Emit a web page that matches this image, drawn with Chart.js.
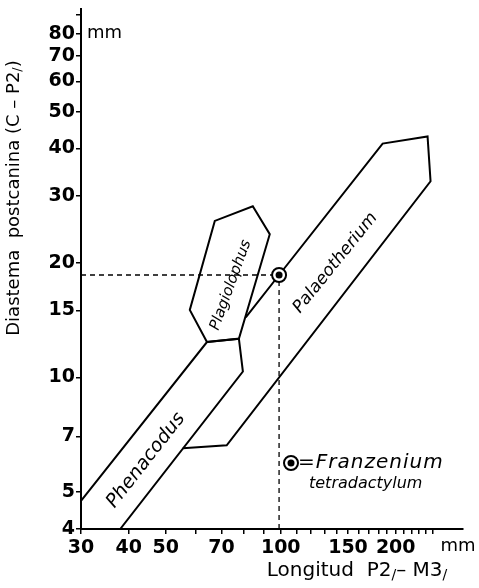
<!DOCTYPE html>
<html>
<head>
<meta charset="utf-8">
<title>Diastema postcanina</title>
<script src="https://cdn.jsdelivr.net/npm/chart.js"></script>
<style>
  html, body { margin: 0; padding: 0; background: #fff; }
  canvas { display: block; }
</style>
</head>
<body>
<canvas id="chart" width="479" height="588"></canvas>
<script>
// axis ticks (log scales), labelled ones are a subset
const xTicks = [30,40,50,60,70,80,90,100,110,120,130,140,150,160,170,180,190,200,210,220,230,240,250];
const xLabels = [30,40,50,70,100,150,200];
const yTicks = [4,5,7,10,15,20,30,40,50,60,70,80,90];
const yLabels = [4,5,7,10,15,20,30,40,50,60,70,80];

// outlines of the fields
const phenacodusX = [30, 64.1, 77.7, 79.6, 38];
const phenacodusY = [4.74, 12.4, 12.65, 10.37, 4];
const plagiolophusX = [64.1, 57.8, 67.2, 84.5, 93.6, 77.7, 64.1];
const plagiolophusY = [12.4, 15.06, 25.8, 28.2, 23.8, 12.65, 12.4];
const palaeotheriumX = [81.0, 99, 184.8, 242.3, 246.7, 72.2, 55.4];
const palaeotheriumY = [14.4, 18.6, 41.2, 43.0, 32.8, 6.64, 6.52];

// Franzenium tetradactylum
const franzeniumX = [99];
const franzeniumY = [18.6];

// field names and where they sit (data units)
const fieldNames = ['Phenacodus', 'Plagiolophus', 'Palaeotherium'];
const fieldLabelX = [44.4, 74.0, 139];
const fieldLabelY = [6.06, 17.5, 20.0];
const fieldLabelAngle = [-52, -70, -51];
const fieldLabelSize = [19, 15, 17];

const pts = (xs, ys) => xs.map((x, i) => ({ x: x, y: ys[i] }));

const outline = (data) => ({
  data: data, showLine: true, borderColor: '#000', borderWidth: 2,
  pointRadius: 0, tension: 0, fill: false
});
const dashed = (data) => ({
  data: data, showLine: true, borderColor: '#000', borderWidth: 1.3,
  borderDash: [5, 4], pointRadius: 0, fill: false
});

const SANS = '"DejaVu Sans", sans-serif';

function drawRuns(ctx, runs, x, y, size) {
  // text with small lowered "/" marks (lower tooth notation)
  let total = 0;
  runs.forEach(r => {
    ctx.font = (r.sub ? Math.round(size * 0.7) : size) + 'px ' + SANS;
    r.w = ctx.measureText(r.t).width;
    total += r.w;
  });
  let cx = x - total / 2;
  ctx.textAlign = 'left';
  ctx.textBaseline = 'middle';
  runs.forEach(r => {
    ctx.font = (r.sub ? Math.round(size * 0.7) : size) + 'px ' + SANS;
    ctx.fillText(r.t, cx, y + (r.sub ? 4 : 0));
    cx += r.w;
  });
}

const textPlugin = {
  id: 'texts',
  afterDraw(chart) {
    const ctx = chart.ctx;
    const xs = chart.scales.x, ys = chart.scales.y;
    ctx.save();
    ctx.fillStyle = '#000';

    // field names
    ctx.textAlign = 'center';
    ctx.textBaseline = 'middle';
    fieldNames.forEach((n, i) => {
      ctx.save();
      ctx.font = 'italic ' + fieldLabelSize[i] + 'px ' + SANS;
      ctx.translate(xs.getPixelForValue(fieldLabelX[i]), ys.getPixelForValue(fieldLabelY[i]));
      ctx.rotate(fieldLabelAngle[i] * Math.PI / 180);
      ctx.fillText(n, 0, 0);
      ctx.restore();
    });

    // unit labels
    ctx.font = '18px ' + SANS;
    ctx.textAlign = 'left';
    ctx.fillText('mm', xs.left + 6, ys.getPixelForValue(80) - 1);
    ctx.textAlign = 'center';
    ctx.fillText('mm', 458, xs.top + 17);

    // axis titles
    ctx.save();
    ctx.translate(14, 198);
    ctx.rotate(-Math.PI / 2);
    drawRuns(ctx, [{ t: 'Diastema  postcanina (C – P2' }, { t: '/', sub: true }, { t: ')' }], 0, 0, 18);
    ctx.restore();
    drawRuns(ctx, [{ t: 'Longitud  P2' }, { t: '/', sub: true }, { t: '– M3' }, { t: '/', sub: true }], 357, 571, 20);

    // key
    const kx = 291, ky = 463;
    ctx.lineWidth = 2;
    ctx.strokeStyle = '#000';
    ctx.fillStyle = '#fff';
    ctx.beginPath(); ctx.arc(kx, ky, 7, 0, 2 * Math.PI); ctx.fill(); ctx.stroke();
    ctx.fillStyle = '#000';
    ctx.beginPath(); ctx.arc(kx, ky, 3.5, 0, 2 * Math.PI); ctx.fill();
    ctx.textAlign = 'left';
    ctx.font = 'italic 20px ' + SANS;
    ctx.letterSpacing = '1px';
    ctx.fillText('=Franzenium', kx + 7, ky);
    ctx.letterSpacing = '0px';
    ctx.font = 'italic 16px ' + SANS;
    ctx.fillText('tetradactylum', kx + 18, ky + 21);
    ctx.restore();
  }
};

const ctx = document.getElementById('chart').getContext('2d');
new Chart(ctx, {
  type: 'scatter',
  data: {
    // first dataset is drawn on top
    datasets: [
      { data: pts(franzeniumX, franzeniumY), pointRadius: 3.5, pointBorderWidth: 0,
        pointBackgroundColor: '#000', showLine: false },
      { data: pts(franzeniumX, franzeniumY), pointRadius: 7, pointBorderWidth: 2,
        pointBorderColor: '#000', pointBackgroundColor: '#fff', showLine: false },
      outline(pts(phenacodusX, phenacodusY)),
      outline(pts(plagiolophusX, plagiolophusY)),
      outline(pts(palaeotheriumX, palaeotheriumY)),
      dashed([{ x: 30, y: franzeniumY[0] }, { x: franzeniumX[0], y: franzeniumY[0] }]),
      dashed([{ x: franzeniumX[0], y: 4 }, { x: franzeniumX[0], y: franzeniumY[0] }])
    ]
  },
  options: {
    responsive: false,
    animation: false,
    layout: { padding: { top: 7, right: 16, left: 0, bottom: 0 } },
    plugins: { legend: { display: false }, tooltip: { enabled: false } },
    scales: {
      x: {
        type: 'logarithmic', min: 30, max: 300,
        afterBuildTicks: s => { s.ticks = xTicks.map(v => ({ value: v })); },
        afterFit: s => { s.height = 59; s.paddingLeft = 0; s.paddingRight = 0; },
        ticks: {
          autoSkip: false, maxRotation: 0, padding: 3, color: '#000',
          font: { family: SANS, size: 19, weight: 'bold' },
          callback: v => xLabels.includes(v) ? String(v) : ''
        },
        grid: { drawOnChartArea: false, drawTicks: true, tickLength: 5, color: '#000', lineWidth: 1.5 },
        border: { color: '#000', width: 2 }
      },
      y: {
        type: 'logarithmic', min: 4, max: 93,
        afterBuildTicks: s => { s.ticks = yTicks.map(v => ({ value: v })); },
        afterFit: s => { s.width = 81; s.paddingTop = 0; s.paddingBottom = 0; },
        ticks: {
          autoSkip: false, padding: 1, color: '#000',
          font: { family: SANS, size: 19, weight: 'bold' },
          callback: v => yLabels.includes(v) ? String(v) : ''
        },
        grid: { drawOnChartArea: false, drawTicks: true, tickLength: 5, color: '#000', lineWidth: 1.5 },
        border: { color: '#000', width: 2 }
      }
    }
  },
  plugins: [textPlugin]
});
</script>
</body>
</html>
